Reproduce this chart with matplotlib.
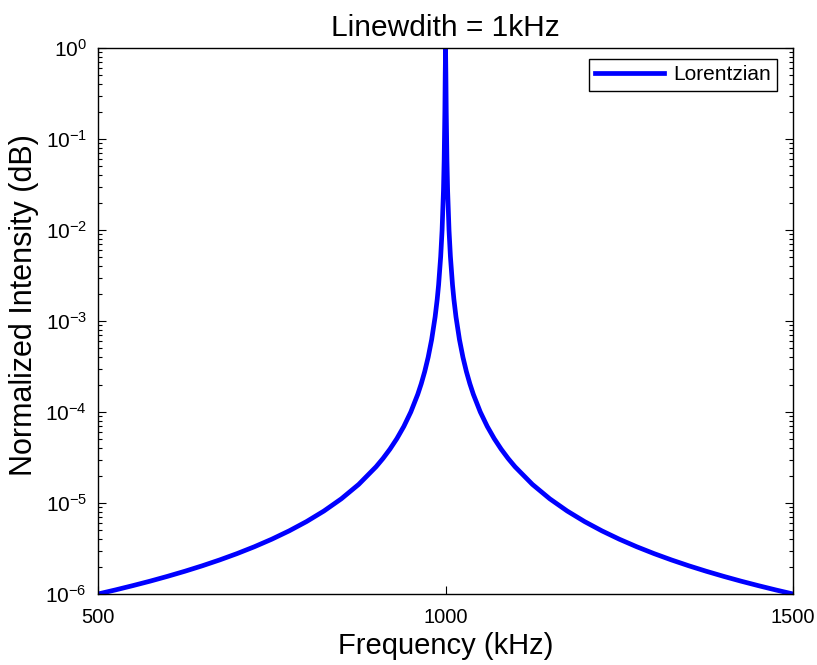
import matplotlib
matplotlib.use('Agg')
import matplotlib.pyplot as plt
import numpy as np

# Lorentzian lineshape, values (linewidth 1 kHz, centre 1000 kHz)
freq_khz = [500, 525, 550, 575, 600, 625, 650, 675, 700, 725, 750, 775, 800, 825,
            850, 875, 900, 910, 920, 930, 940, 950, 960, 965, 970, 975, 980, 985,
            988, 990, 993, 995, 997, 998, 999, 999.5, 1000,
            1000.5, 1001, 1002, 1003, 1005, 1007, 1010, 1012, 1015, 1020, 1025,
            1030, 1035, 1040, 1050, 1060, 1070, 1080, 1090, 1100, 1125, 1150,
            1175, 1200, 1225, 1250, 1275, 1300, 1325, 1350, 1375, 1400, 1425,
            1450, 1475, 1500]
intensity = [1.0e-6, 1.108e-6, 1.235e-6, 1.384e-6, 1.563e-6, 1.778e-6, 2.041e-6,
             2.367e-6, 2.778e-6, 3.306e-6, 4.0e-6, 4.938e-6, 6.25e-6, 8.163e-6,
             1.111e-5, 1.6e-5, 2.5e-5, 3.086e-5, 3.906e-5, 5.102e-5, 6.944e-5,
             1.0e-4, 1.563e-4, 2.041e-4, 2.778e-4, 4.0e-4, 6.25e-4, 1.111e-3,
             1.733e-3, 2.497e-3, 5.1e-3, 9.9e-3, 2.7e-2, 5.9e-2, 0.2, 0.5, 1.0,
             0.5, 0.2, 5.9e-2, 2.7e-2, 9.9e-3, 5.1e-3, 2.497e-3, 1.733e-3,
             1.111e-3, 6.25e-4, 4.0e-4, 2.778e-4, 2.041e-4, 1.563e-4, 1.0e-4,
             6.944e-5, 5.102e-5, 3.906e-5, 3.086e-5, 2.5e-5, 1.6e-5, 1.111e-5,
             8.163e-6, 6.25e-6, 4.938e-6, 4.0e-6, 3.306e-6, 2.778e-6, 2.367e-6,
             2.041e-6, 1.778e-6, 1.563e-6, 1.384e-6, 1.235e-6, 1.108e-6, 1.0e-6]
xticks = [500, 1000, 1500]

plt.rcParams['font.family'] = ['Liberation Sans', 'DejaVu Sans']
plt.rcParams['mathtext.fontset'] = 'custom'
plt.rcParams['mathtext.rm'] = 'Liberation Sans'
plt.rcParams['mathtext.it'] = 'Liberation Sans'

fig = plt.figure(figsize=(8.17, 6.65), dpi=100)
ax = fig.add_axes([0.120, 0.1068, 0.8507, 0.821])

ax.semilogy(freq_khz, intensity, color='#0000ff', linewidth=3.4, label='Lorentzian')
ax.set_xlim(500, 1500)
ax.set_ylim(1e-6, 1)
ax.set_xticks(xticks)
ax.set_xticklabels([str(t) for t in xticks])
ax.tick_params(which='both', direction='in', top=True, right=True)
ax.tick_params(axis='x', labelsize=14.5, pad=10)
ax.tick_params(axis='y', labelsize=15, pad=8)
ax.tick_params(which='major', length=6, width=0.8)
ax.tick_params(which='minor', length=3, width=0.8)
ax.xaxis.set_minor_locator(matplotlib.ticker.NullLocator())
for s in ax.spines.values():
    s.set_linewidth(1.0)

ax.set_xlabel('Frequency (kHz)', fontsize=21, labelpad=4)
ax.set_ylabel('Normalized Intensity (dB)', fontsize=22)
ax.yaxis.set_label_coords(-0.085, 0.529)
ax.set_title('Linewdith = 1kHz', fontsize=21.5, pad=9)

leg = ax.legend(loc='upper right', fontsize=15, fancybox=False, framealpha=1,
                bbox_to_anchor=(777 / 817, 1 - 59 / 665),
                bbox_transform=fig.transFigure, borderaxespad=0,
                borderpad=0.3, handlelength=3.3, handletextpad=0.45)
leg.get_frame().set_edgecolor('black')
leg.get_frame().set_linewidth(1.0)

fig.savefig('out.png', dpi=100)
